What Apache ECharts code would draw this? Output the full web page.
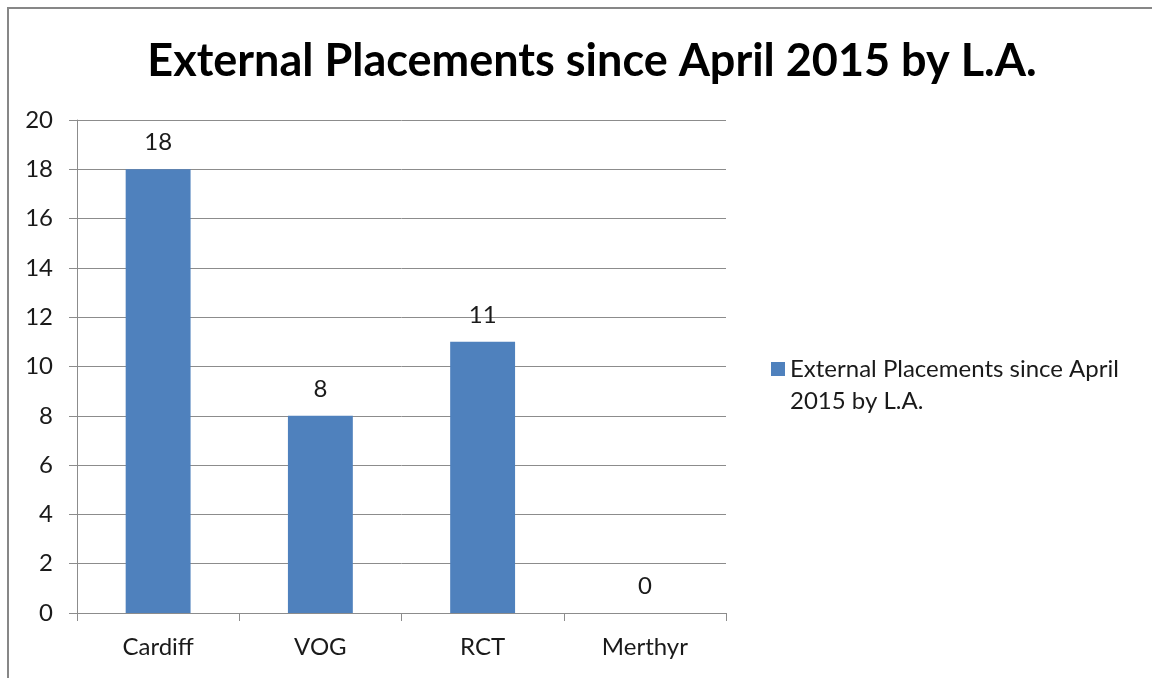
<!DOCTYPE html>
<html>
<head>
<meta charset="utf-8">
<script src="https://cdn.jsdelivr.net/npm/echarts@6/dist/echarts.min.js"></script>
<style>
  html, body { margin: 0; padding: 0; background: #fff; }
  #main { width: 1152px; height: 678px; }
</style>
</head>
<body>
<div id="main"></div>
<script>
const categories = ['Cardiff', 'VOG', 'RCT', 'Merthyr']
const placements = [18, 8, 11, 0]
const seriesName = 'External Placements since April 2015 by L.A.'

const chart = echarts.init(document.getElementById('main'))
const font = 'Lato, "Open Sans", sans-serif'

const option = {
  backgroundColor: '#fff',
  animation: false,
  title: {
    text: 'External Placements since April 2015 by L.A.',
    left: 587,
    top: 34,
    textAlign: 'center',
    textStyle: { fontFamily: font, fontSize: 45, fontWeight: 'bold', color: '#000' }
  },
  graphic: [
    {
      type: 'rect',
      shape: { x: 8, y: 8, width: 1200, height: 720 },
      style: { fill: 'none', stroke: '#878787', lineWidth: 2 }
    }
  ],
  legend: {
    left: 766,
    top: 348,
    orient: 'vertical',
    // square on the first text line: the empty point at the bottom stretches the icon box
    icon: 'path://M0,0h14v14h-14zM0,46',
    itemWidth: 14,
    itemHeight: 46,
    itemGap: 8,
    formatter: function () {
      return 'External Placements since April\n2015 by L.A.'
    },
    textStyle: {
      fontFamily: font,
      fontSize: 24,
      color: '#1a1a1a',
      lineHeight: 32
    }
  },
  grid: { left: 77, right: 426, top: 120, bottom: 65 },
  xAxis: {
    type: 'category',
    data: categories,
    axisLine: { show: true, lineStyle: { color: '#8c8c8c', width: 1 } },
    axisTick: { show: true, length: 8, lineStyle: { color: '#8c8c8c' } },
    axisLabel: { fontFamily: font, fontSize: 24, color: '#1a1a1a', margin: 22 }
  },
  yAxis: {
    type: 'value',
    min: 0,
    max: 20,
    interval: 2,
    axisLine: { show: true, lineStyle: { color: '#8c8c8c', width: 1 } },
    axisTick: { show: true, length: 8, lineStyle: { color: '#8c8c8c' } },
    axisLabel: { fontFamily: font, fontSize: 24, color: '#1a1a1a', margin: 24 },
    splitLine: { show: true, lineStyle: { color: '#8c8c8c', width: 1 } }
  },
  series: [
    {
      name: seriesName,
      type: 'bar',
      data: placements,
      barWidth: '40%',
      itemStyle: { color: '#4f81bd' },
      label: {
        show: true,
        position: 'top',
        distance: 15,
        fontFamily: font,
        fontSize: 24,
        color: '#1a1a1a'
      }
    }
  ]
}

chart.setOption(option)
</script>
</body>
</html>
